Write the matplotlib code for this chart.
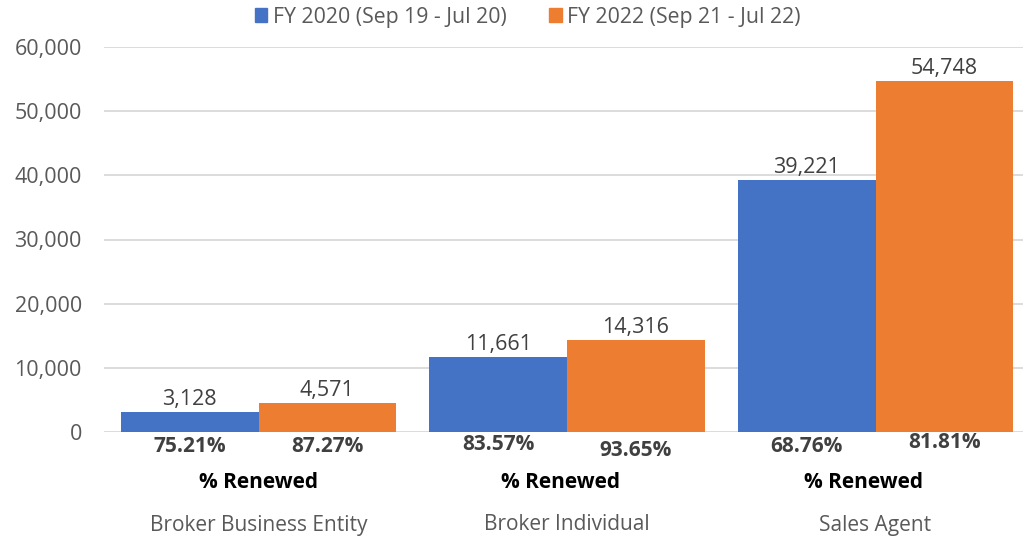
import matplotlib
matplotlib.use("Agg")
import matplotlib.pyplot as plt
import matplotlib.transforms as mtransforms
from matplotlib.patches import Patch
import numpy as np

# Data
categories = ["Broker Business Entity", "Broker Individual", "Sales Agent"]
series_names = ["FY 2020 (Sep 19 - Jul 20)", "FY 2022 (Sep 21 - Jul 22)"]
fy2020 = [3128, 11661, 39221]
fy2022 = [4571, 14316, 54748]
renew_2020 = ["75.21%", "83.57%", "68.76%"]
renew_2022 = ["87.27%", "93.65%", "81.81%"]
sub_label = "% Renewed"

# Colours and layout
BLUE = "#4472C4"
ORANGE = "#ED7D31"
GRID = "#D9D9D9"
plt.rcParams["font.family"] = ["Open Sans", "DejaVu Sans"]

W, H = 1025, 541
fig = plt.figure(figsize=(W / 100, H / 100), dpi=100)
ax = fig.add_axes([104 / W, (H - 432) / H, 919 / W, 385 / H])

x = np.arange(len(categories))
bw = 0.446
b1 = ax.bar(x - bw / 2, fy2020, bw, color=BLUE, label=series_names[0])
b2 = ax.bar(x + bw / 2, fy2022, bw, color=ORANGE, label=series_names[1])

for bars, vals in [(b1, fy2020), (b2, fy2022)]:
    for rect, v in zip(bars, vals):
        ax.annotate(f"{v:,}", (rect.get_x() + rect.get_width() / 2, v),
                    xytext=(0, 1.5), textcoords="offset points",
                    ha="center", va="bottom", fontsize=15.5, color="#404040")

ax.set_xlim(-0.501, 2.478)
ax.set_ylim(0, 60000)
ax.set_yticks(range(0, 60001, 10000))
ax.yaxis.set_major_formatter(matplotlib.ticker.FuncFormatter(lambda v, p: f"{int(v):,}"))
ax.tick_params(axis="y", length=0, pad=16, labelsize=15.5, labelcolor="#595959")
ax.set_xticks([])
ax.grid(axis="y", color=GRID, linewidth=1.3)
ax.set_axisbelow(True)
for s in ax.spines.values():
    s.set_visible(False)

# text under the axis, x in data units, y in figure pixels
tr = mtransforms.blended_transform_factory(ax.transData, fig.transFigure)
def fy(px):
    return 1 - px / H

pct_y_2020 = [447, 444, 446]
pct_y_2022 = [447, 451, 443]
sub_dx = [0, -0.02, -0.04]
for i in range(len(categories)):
    ax.text(x[i] - bw / 2, fy(pct_y_2020[i]), renew_2020[i], transform=tr,
            ha="center", va="center", fontsize=15, fontweight="bold", color="#404040")
    ax.text(x[i] + bw / 2, fy(pct_y_2022[i]), renew_2022[i], transform=tr,
            ha="center", va="center", fontsize=15, fontweight="bold", color="#404040")
    ax.text(x[i] + sub_dx[i], fy(482), sub_label, transform=tr,
            ha="center", va="center", fontsize=15, fontweight="bold", color="black")
    ax.text(x[i], fy(525), categories[i], transform=tr,
            ha="center", va="center", fontsize=15, color="#595959")

handles = [Patch(color=BLUE), Patch(color=ORANGE)]
fig.legend(handles, series_names, loc="center", bbox_to_anchor=(0.5146, fy(17)),
           ncol=2, frameon=False, fontsize=15.3, labelcolor="#595959",
           handlelength=0.6, handleheight=0.6, handletextpad=0.25, columnspacing=2.0)

fig.savefig("out.png", dpi=100)
